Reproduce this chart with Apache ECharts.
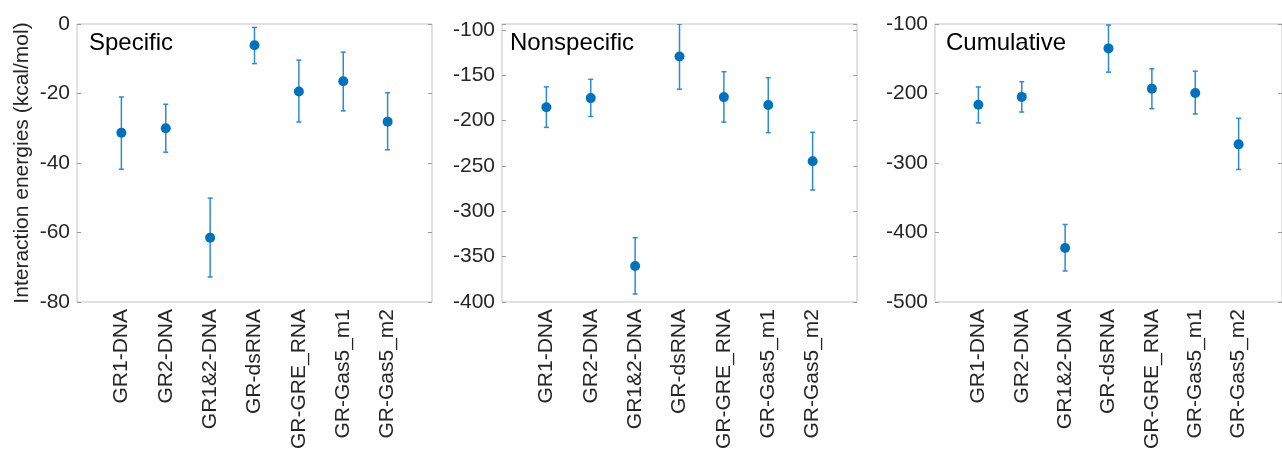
<!DOCTYPE html>
<html>
<head>
<meta charset="utf-8">
<script src="https://cdn.jsdelivr.net/npm/echarts@6/dist/echarts.min.js"></script>
<style>
    html, body { margin: 0; padding: 0; background: #fff; }
    #chart { width: 1282px; height: 452px; }
</style>
</head>
<body>
<div id="chart"></div>
<script>
const categories = ['GR1-DNA', 'GR2-DNA', 'GR1&2-DNA', 'GR-dsRNA', 'GR-GRE_RNA', 'GR-Gas5_m1', 'GR-Gas5_m2'];

// Specific
const specificMean = [-31.3, -30.0, -61.5, -6.1, -19.4, -16.5, -28.1];
const specificLow = [-41.8, -36.9, -72.8, -11.4, -28.2, -25.0, -36.2];
const specificHigh = [-21.0, -23.1, -50.1, -1.0, -10.4, -8.1, -19.8];

// Nonspecific
const nonspecificMean = [-185.3, -175.2, -360.3, -129.4, -174.1, -182.8, -244.9];
const nonspecificLow = [-207.5, -195.5, -391.2, -165.4, -201.7, -213.3, -276.5];
const nonspecificHigh = [-162.8, -154.5, -329.1, -93.5, -146.1, -152.7, -212.9];

// Cumulative
const cumulativeMean = [-216.3, -204.9, -422.2, -135.1, -193.0, -199.2, -273.2];
const cumulativeLow = [-242.3, -226.7, -455.4, -169.3, -221.9, -229.5, -309.3];
const cumulativeHigh = [-190.6, -183.0, -388.5, -101.4, -164.5, -167.9, -235.7];

const panelTitles = ['Specific', 'Nonspecific', 'Cumulative'];
const yMin = [-80, -400, -500];
const yMax = [0, -93.5, -100];
const yStep = [20, 50, 100];

const markerColor = '#0072BD';
const barColor = '#2f8ad2';
const fontFamily = 'Liberation Sans, Arial, Helvetica, sans-serif';

const chart = echarts.init(document.getElementById('chart'));

const panels = [
    {mean: specificMean, low: specificLow, high: specificHigh},
    {mean: nonspecificMean, low: nonspecificLow, high: nonspecificHigh},
    {mean: cumulativeMean, low: cumulativeLow, high: cumulativeHigh}
];

const gridLefts = [77, 502, 935];

const grid = gridLefts.map(left => ({
    left: left,
    top: 24,
    width: 355,
    height: 281,
    show: true,
    borderColor: '#c4c4c4',
    borderWidth: 1,
    containLabel: false
}));

const xAxis = gridLefts.map((l, i) => ({
    type: 'value',
    gridIndex: i,
    min: 0,
    max: 8,
    interval: 1,
    axisLine: {show: false},
    axisTick: {show: false},
    splitLine: {show: false},
    axisLabel: {
        rotate: 90,
        margin: 7,
        fontSize: 21,
        fontFamily: fontFamily,
        color: '#262626',
        showMinLabel: false,
        showMaxLabel: false,
        formatter: v => categories[v - 1] || ''
    }
}));

const yAxis = [];
gridLefts.forEach((l, i) => {
    yAxis.push({
        type: 'value',
        gridIndex: i,
        position: 'left',
        min: yMin[i],
        max: yMax[i],
        interval: yStep[i],
        name: i === 0 ? 'Interaction energies (kcal/mol)' : '',
        nameLocation: 'middle',
        nameGap: 44,
        nameTextStyle: {fontSize: 21, fontFamily: fontFamily, color: '#262626'},
        axisLine: {show: false},
        axisTick: {show: true, inside: true, length: 4, lineStyle: {color: '#9a9a9a'}},
        splitLine: {show: false},
        axisLabel: {
            margin: 7,
            fontSize: 21,
            fontFamily: fontFamily,
            color: '#262626',
            formatter: v => (v % yStep[i] === 0 ? String(v) : '')
        }
    });
    yAxis.push({
        type: 'value',
        gridIndex: i,
        position: 'right',
        min: yMin[i],
        max: yMax[i],
        interval: yStep[i],
        axisLine: {show: false},
        axisTick: {show: true, inside: true, length: 4, lineStyle: {color: '#9a9a9a'}},
        splitLine: {show: false},
        axisLabel: {show: false}
    });
});

const series = [];
panels.forEach((p, i) => {
    series.push({
        type: 'custom',
        xAxisIndex: i,
        yAxisIndex: i * 2,
        clip: true,
        data: p.mean.map((m, k) => [k + 1, p.low[k], p.high[k]]),
        renderItem: (params, api) => {
            const x = api.value(0);
            const lo = api.coord([x, api.value(1)]);
            const hi = api.coord([x, api.value(2)]);
            const cap = 2.5;
            const style = {stroke: barColor, lineWidth: 1.5};
            return {
                type: 'group',
                children: [
                    {type: 'line', shape: {x1: lo[0], y1: lo[1], x2: hi[0], y2: hi[1]}, style: style},
                    {type: 'line', shape: {x1: lo[0] - cap, y1: lo[1], x2: lo[0] + cap, y2: lo[1]}, style: style},
                    {type: 'line', shape: {x1: hi[0] - cap, y1: hi[1], x2: hi[0] + cap, y2: hi[1]}, style: style}
                ]
            };
        },
        z: 2
    });
    series.push({
        type: 'scatter',
        xAxisIndex: i,
        yAxisIndex: i * 2,
        symbol: 'circle',
        symbolSize: 10,
        itemStyle: {color: markerColor, opacity: 1},
        data: p.mean.map((m, k) => [k + 1, m]),
        z: 3
    });
});

const title = panelTitles.map((t, i) => ({
    text: t,
    left: [89, 510, 946][i],
    top: 31,
    padding: 0,
    textStyle: {fontSize: 24, fontWeight: 'normal', fontFamily: fontFamily, color: '#000'}
}));

const option = {
    animation: false,
    backgroundColor: '#fff',
    title: title,
    grid: grid,
    xAxis: xAxis,
    yAxis: yAxis,
    series: series
};

option && chart.setOption(option);
</script>
</body>
</html>
